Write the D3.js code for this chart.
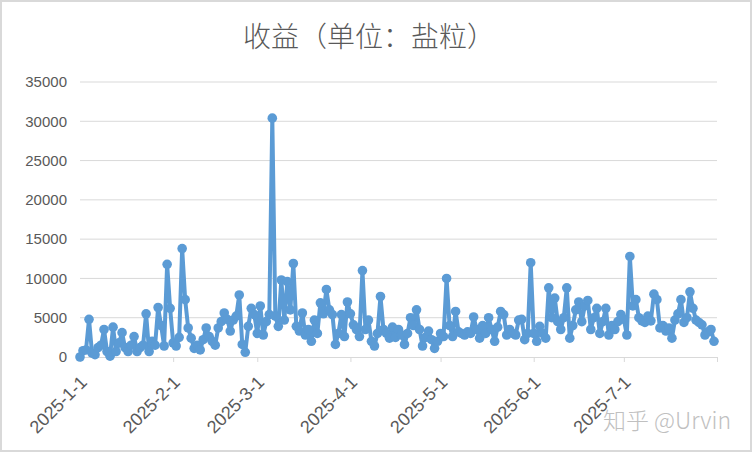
<!DOCTYPE html>
<html><head><meta charset="utf-8">
<script src="https://cdn.jsdelivr.net/npm/d3@7"></script>
<style>html,body{margin:0;padding:0;background:#fff;}svg{display:block;}</style>
</head><body>
<svg id="chart" width="752" height="452"></svg>
<script>
const titleText = "收益（单位：盐粒）";
const startDate = "2025-01-01";
const janValues = [0,800,900,4800,500,300,1200,1500,3500,700,100,3800,700,1800,3100,1200,700,1500,2600,700,1200,1500,5500,700,2000,1500,6300,4000,1400,11800,6200];
const febValues = [1800,1400,2500,13800,7300,3700,2400,1100,1500,900,2200,3700,2600,2000,1500,3700,4500,5600,4800,3300,4700,5200,7900,1600,600,3900,6200,5400];
const marValues = [3000,6500,2800,4500,5400,30400,5200,3900,9800,4700,9600,6000,11900,3900,3300,5600,2800,3500,2000,4700,3000,6900,5500,8600,6000,5400,1600,3000,5400,2600,7000];
const aprValues = [5500,4100,3500,2600,11000,3500,4700,2000,1400,3000,7700,3500,3000,2400,3800,2500,3500,2800,1600,3000,5000,4000,6000,3500,1400,2500,3300,2200,1100,2000];
const mayValues = [3000,2600,10000,4000,2600,5800,3200,3000,2800,3200,3000,5100,3500,2400,4000,3000,5000,3500,2000,3800,5800,5400,2800,3500,3000,2800,4700,4800,2200,3000,12000];
const junValues = [3000,2000,3900,3000,2400,8800,5000,7500,4500,3500,5000,8800,2400,4000,6000,7000,4500,6500,7200,3500,5000,6200,3000,4500,6200,2800,4000,3500,4500,5400];
const julValues = [4800,2800,12800,6500,7300,5000,4600,4400,5200,4600,8000,7300,3700,4000,3300,3700,2400,4700,5500,7300,4400,5000,8300,6200,4700,4400,4100,2800,3200,3500,2000];
const yTicks = [0,5000,10000,15000,20000,25000,30000,35000];
const xTickLabels = ["2025-1-1","2025-2-1","2025-3-1","2025-4-1","2025-5-1","2025-6-1","2025-7-1"];
const watermark = "知乎 @Urvin";

const values = [].concat(janValues, febValues, marValues, aprValues, mayValues, junValues, julValues);
const t0 = new Date(startDate + "T00:00:00Z");
const data = values.map((v, i) => ({date: d3.utcDay.offset(t0, i), value: v}));

const svg = d3.select("#chart");
const W = 752, H = 452;
const plot = {left: 80, right: 717, top: 82, bottom: 357};
const x = d3.scaleUtc().domain([t0, new Date("2025-08-01T00:00:00Z")]).range([plot.left, plot.right]);
const y = d3.scaleLinear().domain([0, 35000]).range([plot.bottom, plot.top]);

svg.append("rect").attr("x", 1).attr("y", 1).attr("width", W - 2).attr("height", H - 2)
  .attr("fill", "#fff").attr("stroke", "#d9d9d9").attr("stroke-width", 2);

svg.append("text").attr("x", 369).attr("y", 47).attr("text-anchor", "middle")
  .attr("font-family", "'Noto Sans CJK SC', sans-serif").attr("font-size", 28).attr("font-weight", 300)
  .attr("fill", "#595959").text(titleText);

// gridlines
svg.append("g").selectAll("line").data(yTicks.filter(d => d > 0)).join("line")
  .attr("x1", plot.left).attr("x2", plot.right)
  .attr("y1", d => y(d)).attr("y2", d => y(d))
  .attr("stroke", "#d9d9d9").attr("stroke-width", 1);

// y axis labels
const yAxis = d3.axisLeft(y).tickValues(yTicks).tickSize(0).tickPadding(13).tickFormat(d3.format("d"));
const gy = svg.append("g").attr("transform", `translate(${plot.left},0)`).call(yAxis);
gy.select(".domain").remove();
gy.selectAll("text").attr("font-family", "'Liberation Sans', Arial, sans-serif").attr("font-size", 15).attr("fill", "#595959");

// x axis
const monthTicks = d3.utcMonth.range(t0, new Date("2025-08-02T00:00:00Z"));
const xAxis = d3.axisBottom(x).tickValues(monthTicks).tickSize(5).tickFormat((d, i) => xTickLabels[i] || "");
const gx = svg.append("g").attr("transform", `translate(0,${plot.bottom})`).call(xAxis);
gx.select(".domain").attr("stroke", "#d9d9d9").attr("d", `M${plot.left},0.5H${plot.right}`);
gx.selectAll(".tick line").attr("stroke", "#d9d9d9");
gx.selectAll(".tick text")
  .attr("font-family", "'Liberation Sans', Arial, sans-serif").attr("font-size", 18).attr("fill", "#595959")
  .attr("text-anchor", "end").attr("dy", "0.35em").attr("y", 0)
  .attr("transform", "translate(3,22) rotate(-45)");

// line + markers
const line = d3.line().x(d => x(d.date)).y(d => y(d.value));
svg.append("path").datum(data).attr("d", line).attr("fill", "none")
  .attr("stroke", "#5b9bd5").attr("stroke-width", 4).attr("stroke-linejoin", "round");
svg.append("g").selectAll("circle").data(data).join("circle")
  .attr("cx", d => x(d.date)).attr("cy", d => y(d.value)).attr("r", 4.8)
  .attr("fill", "#5b9bd5");

svg.append("text").attr("x", 603).attr("y", 429)
  .attr("font-family", "'Noto Sans CJK SC', sans-serif").attr("font-size", 23).attr("font-weight", 300)
  .attr("fill", "#c0c0c0").text(watermark);
</script>
</body></html>
